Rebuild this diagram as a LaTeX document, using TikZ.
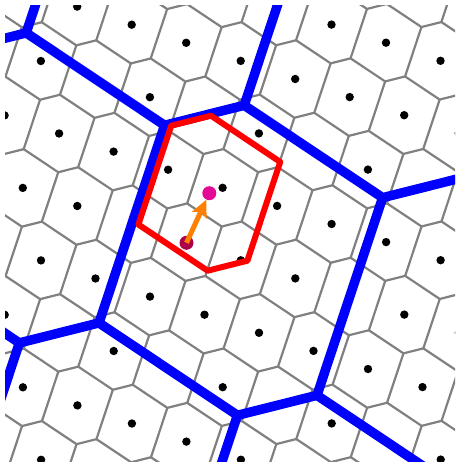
\documentclass[tikz,border=0pt]{standalone}
\usepackage{tikz}
\usetikzlibrary{arrows.meta}
\definecolor{cellgray}{RGB}{128,128,128}
\definecolor{latblue}{RGB}{0,0,255}
\definecolor{cellred}{RGB}{255,0,0}
\definecolor{ptpink}{RGB}{228,10,150}
\definecolor{ptdark}{RGB}{172,0,72}
\definecolor{arrorange}{RGB}{255,128,0}

\begin{document}
\begin{tikzpicture}[x=1pt, y=-1pt,
    cell/.style={draw=cellgray, line width=2.2pt, line join=round},
    wall/.style={draw=latblue, line width=9.5pt, line cap=round, line join=round},
    region/.style={draw=cellred, line width=6pt, line join=round},
    pt/.style={circle, inner sep=0pt, minimum size=14pt},
    ar/.style={-{Stealth[length=17pt, width=16pt, inset=4pt]}, draw=arrorange, line width=5pt}
]
\useasboundingbox (0,0) rectangle (455,462);
\clip (5,6) rectangle (455,462);
\foreach \i in {-8,...,7}
  \foreach \j in {-7,...,6}
  {
    \draw[cell, shift={({240.8+54.5*\i-36.3*(\j)},{260.3+18.1*\i+54.4*(\j)})}]
      (35.45,-15.65) -- (19.05,33.75) -- (-0.85,38.75) -- (-35.45,15.65);
    \fill[shift={({240.8+54.5*\i-36.3*(\j)},{260.3+18.1*\i+54.4*(\j)})}] (0,0) circle (4.2);
  }
\foreach \i in {-3,...,3}
  \foreach \j in {-3,...,3}
    \draw[wall, shift={({240.8+218*\i-145.2*(\j)},{260.3+72.4*\i+217.6*(\j)})}]
      (141.8,-62.6) -- (76.2,135) -- (-3.4,155) -- (-141.8,62.6);
\draw[region, shift={(209.3,193.2)}] (70.9,-31.3) -- (38.1,67.5) -- (-1.7,77.5)
  -- (-70.9,31.3) -- (-38.1,-67.5) -- (1.7,-77.5) -- cycle;
\node[pt, fill=ptdark] (start) at (186.5,242.8) {};
\node[pt, fill=ptpink] (goal) at (209.3,193.2) {};
\draw[ar] (start.center) -- (goal);
\end{tikzpicture}
\end{document}
